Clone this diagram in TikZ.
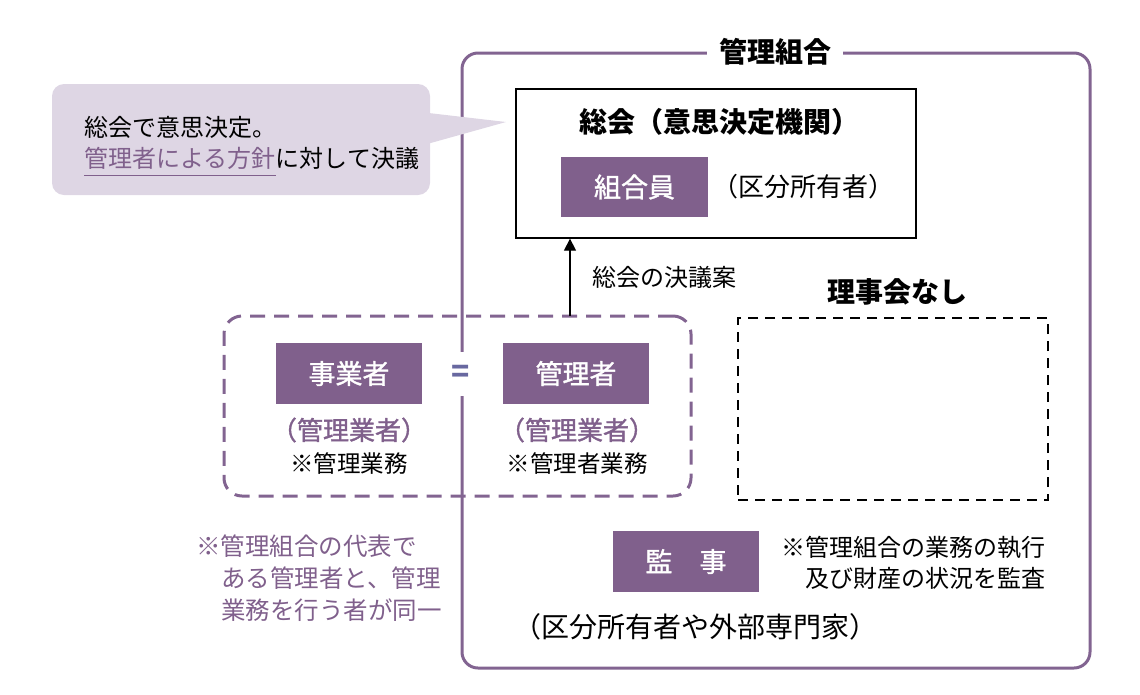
\documentclass[tikz,border=0pt]{standalone}
\usepackage{fontspec}
\setmainfont{Noto Sans CJK JP}
\newfontfamily\medfont[FakeBold=1.3]{Noto Sans CJK JP}
\usetikzlibrary{arrows.meta}
\definecolor{pur}{RGB}{128,96,140}
\definecolor{purline}{RGB}{130,100,145}
\definecolor{bubble}{RGB}{222,214,228}
\definecolor{eqc}{RGB}{104,104,160}
\tikzset{
  fbox/.style={fill=pur, text=white, minimum width=146, minimum height=61, inner sep=0, font=\medfont\fontsize{27}{30}\selectfont},
  txt/.style={inner sep=0, font=\fontsize{23.5}{27}\selectfont},
  ptxt/.style={inner sep=0, text=pur, font=\fontsize{24.5}{28}\selectfont},
  pmed/.style={inner sep=0, text=pur, font=\medfont\fontsize{26}{29}\selectfont},
  btitle/.style={inner sep=0, font=\bfseries\fontsize{28}{30}\selectfont},
}
\begin{document}
\begin{tikzpicture}[x=1pt,y=-1pt]
\useasboundingbox (0,0) rectangle (1140,694);
% outer box
\node[draw=purline, line width=3, rounded corners=16, minimum width=628, minimum height=615, inner sep=0] (kumiai) at (776,360.5) {};
\node[fill=white, btitle, inner xsep=12, inner ysep=2] (ktitle) at (775,52) {管理組合};
% callout
\fill[bubble, rounded corners=12] (52,84) rectangle (430,195);
\coordinate (tip) at (506,122);
\fill[bubble] (420,112) -- (tip) -- (420,146) -- cycle;
\node[txt, anchor=west, font=\fontsize{24}{27}\selectfont] (c1) at (84,127) {総会で意思決定。};
\node[txt, anchor=west, text=pur, font=\fontsize{24}{27}\selectfont] (hs) at (84,158) {管理者による方針};
\node[txt, anchor=west, font=\fontsize{24}{27}\selectfont] (c2) at (hs.east) {に対して決議};
\draw[pur, line width=1.2] ([yshift=-6]hs.south west) -- ([yshift=-6]hs.south east);
% general meeting
\node[draw=black, line width=1.3, minimum width=400, minimum height=149, inner sep=0] (sokai) at (716,163.5) {};
\node[btitle] (stitle) at (719,122) {総会（意思決定機関）};
\node[fbox, minimum width=147, minimum height=60] (kumiaiin) at (634.5,187) {組合員};
\node[txt, font=\fontsize{26}{29}\selectfont] (kubun) at (803,187) {（区分所有者）};
% dashed purple group
\node[draw=purline, line width=3, dash pattern=on 15 off 9, rounded corners=18, minimum width=467, minimum height=180, inner sep=0] (group) at (457.5,406) {};
\node[fbox] (jigyo) at (349,373.5) {事業者};
\node[fbox] (kanri) at (576,373.5) {管理者};
\node[fill=white, inner xsep=6, minimum height=44, text=eqc, font=\bfseries\fontsize{30}{32}\selectfont] (eq) at (461,373.5) {=};
\node[pmed] (j2) at (349,430) {（管理業者）};
\node[pmed] (k2) at (577,430) {（管理業者）};
\node[txt] (j3) at (349,464) {※管理業務};
\node[txt] (k3) at (577,464) {※管理者業務};
% arrow
\coordinate (astart) at (570,316);
\draw[line width=1.3, -{Triangle[length=12,width=12]}] (astart) -- (astart |- sokai.south);
\node[txt, anchor=west, font=\fontsize{24}{27}\selectfont] (ketsugi) at (592,277) {総会の決議案};
% riji
\node[btitle] (riji) at (897,292) {理事会なし};
\node[draw=black, line width=1.3, dash pattern=on 10 off 7, minimum width=310, minimum height=182, inner sep=0] (rijibox) at (893,409) {};
% note
\node[ptxt, anchor=west] (n1) at (196,546) {※管理組合の代表で};
\node[ptxt, anchor=west] (n2) at (221,578) {ある管理者と、管理};
\node[ptxt, anchor=west] (n3) at (221,610) {業務を行う者が同一};
% kanji
\node[fbox] (kanji) at (686,561.5) {監\hspace{1em}事};
\node[txt, anchor=west, font=\fontsize{24}{27}\selectfont] (m1) at (781,548) {※管理組合の業務の執行};
\node[txt, anchor=west, font=\fontsize{24}{27}\selectfont] (m2) at (805,578) {及び財産の状況を監査};
\node[txt, font=\fontsize{28}{30}\selectfont] (m3) at (695,627) {（区分所有者や外部専門家）};
\end{tikzpicture}
\end{document}
